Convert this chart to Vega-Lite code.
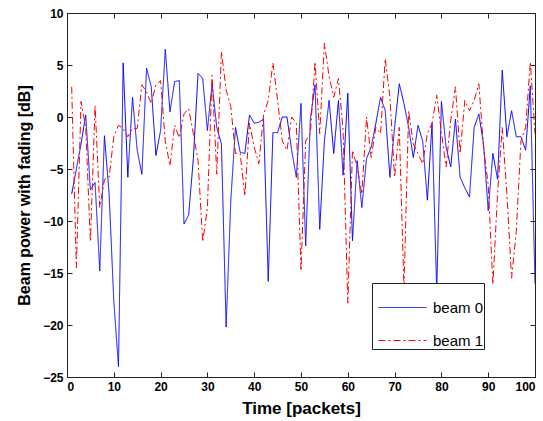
{
  "$schema": "https://vega.github.io/schema/vega-lite/v6.json",
  "width": 468,
  "height": 364,
  "autosize": "none",
  "padding": {"left": 67, "top": 13, "right": 8, "bottom": 44},
  "background": "white",
  "config": {
    "view": {"stroke": "#222", "strokeWidth": 1},
    "axis": {"grid": false, "domain": false, "tickColor": "#222", "labelFont": "Liberation Sans", "labelFontWeight": "bold", "labelFontSize": 12, "labelColor": "black", "titleFont": "Liberation Sans", "titleFontWeight": "bold", "titleColor": "black"},
    "legend": {"orient": "none", "legendX": 305, "legendY": 270, "title": null, "symbolType": "stroke", "symbolSize": 2704, "symbolStrokeWidth": 1, "labelFont": "Liberation Sans", "labelFontSize": 15, "labelColor": "black", "labelOffset": 6, "rowPadding": -12, "padding": 0, "symbolOffset": 6, "strokeColor": "#222", "fillColor": "white"}
  },
  "data": {"values": [
    {"t":1,"p":-7.4,"s":"beam 0"},{"t":2,"p":-5,"s":"beam 0"},{"t":3,"p":-2.6,"s":"beam 0"},{"t":4,"p":0.2,"s":"beam 0"},{"t":5,"p":-7,"s":"beam 0"},{"t":6,"p":-6.3,"s":"beam 0"},{"t":7,"p":-14.8,"s":"beam 0"},{"t":8,"p":-1.8,"s":"beam 0"},{"t":9,"p":-7.4,"s":"beam 0"},{"t":10,"p":-17.7,"s":"beam 0"},
    {"t":11,"p":-24,"s":"beam 0"},{"t":12,"p":5.2,"s":"beam 0"},{"t":13,"p":-5.8,"s":"beam 0"},{"t":14,"p":1.9,"s":"beam 0"},{"t":15,"p":-3.2,"s":"beam 0"},{"t":16,"p":-5.5,"s":"beam 0"},{"t":17,"p":4.7,"s":"beam 0"},{"t":18,"p":2.9,"s":"beam 0"},{"t":19,"p":-3.7,"s":"beam 0"},{"t":20,"p":-1.3,"s":"beam 0"},
    {"t":21,"p":6.5,"s":"beam 0"},{"t":22,"p":0.5,"s":"beam 0"},{"t":23,"p":3.4,"s":"beam 0"},{"t":24,"p":3.5,"s":"beam 0"},{"t":25,"p":-10.3,"s":"beam 0"},{"t":26,"p":-9.4,"s":"beam 0"},{"t":27,"p":-4,"s":"beam 0"},{"t":28,"p":4.2,"s":"beam 0"},{"t":29,"p":3.7,"s":"beam 0"},{"t":30,"p":-1.3,"s":"beam 0"},
    {"t":31,"p":3.2,"s":"beam 0"},{"t":32,"p":-1,"s":"beam 0"},{"t":33,"p":-2.6,"s":"beam 0"},{"t":34,"p":-20.2,"s":"beam 0"},{"t":35,"p":-8,"s":"beam 0"},{"t":36,"p":-1,"s":"beam 0"},{"t":37,"p":-3.4,"s":"beam 0"},{"t":38,"p":-3.5,"s":"beam 0"},{"t":39,"p":0.2,"s":"beam 0"},{"t":40,"p":-0.6,"s":"beam 0"},
    {"t":41,"p":-0.5,"s":"beam 0"},{"t":42,"p":-0.2,"s":"beam 0"},{"t":43,"p":-15.8,"s":"beam 0"},{"t":44,"p":-1.5,"s":"beam 0"},{"t":45,"p":-1.5,"s":"beam 0"},{"t":46,"p":0,"s":"beam 0"},{"t":47,"p":0,"s":"beam 0"},{"t":48,"p":-3.2,"s":"beam 0"},{"t":49,"p":-5.8,"s":"beam 0"},{"t":50,"p":1.3,"s":"beam 0"},
    {"t":51,"p":-12.4,"s":"beam 0"},{"t":52,"p":-0.2,"s":"beam 0"},{"t":53,"p":3.1,"s":"beam 0"},{"t":54,"p":-10.8,"s":"beam 0"},{"t":55,"p":-2.3,"s":"beam 0"},{"t":56,"p":1.6,"s":"beam 0"},{"t":57,"p":-3.5,"s":"beam 0"},{"t":58,"p":1.6,"s":"beam 0"},{"t":59,"p":-5.6,"s":"beam 0"},{"t":60,"p":2.3,"s":"beam 0"},
    {"t":61,"p":-11.9,"s":"beam 0"},{"t":62,"p":-4.2,"s":"beam 0"},{"t":63,"p":-8.7,"s":"beam 0"},{"t":64,"p":-4,"s":"beam 0"},{"t":65,"p":-2.9,"s":"beam 0"},{"t":66,"p":-0.6,"s":"beam 0"},{"t":67,"p":1.9,"s":"beam 0"},{"t":68,"p":0.6,"s":"beam 0"},{"t":69,"p":-5.8,"s":"beam 0"},{"t":70,"p":-1,"s":"beam 0"},
    {"t":71,"p":3.2,"s":"beam 0"},{"t":72,"p":1.3,"s":"beam 0"},{"t":73,"p":-1,"s":"beam 0"},{"t":74,"p":-3.9,"s":"beam 0"},{"t":75,"p":-0.8,"s":"beam 0"},{"t":76,"p":-2.3,"s":"beam 0"},{"t":77,"p":-8,"s":"beam 0"},{"t":78,"p":-0.6,"s":"beam 0"},{"t":79,"p":-16.8,"s":"beam 0"},{"t":80,"p":1.5,"s":"beam 0"},
    {"t":81,"p":-2.9,"s":"beam 0"},{"t":82,"p":-4.8,"s":"beam 0"},{"t":83,"p":-0.2,"s":"beam 0"},{"t":84,"p":-5.8,"s":"beam 0"},{"t":85,"p":-6.8,"s":"beam 0"},{"t":86,"p":-7.7,"s":"beam 0"},{"t":87,"p":-1,"s":"beam 0"},{"t":88,"p":0.3,"s":"beam 0"},{"t":89,"p":-2.6,"s":"beam 0"},{"t":90,"p":-9,"s":"beam 0"},
    {"t":91,"p":-3.5,"s":"beam 0"},{"t":92,"p":-6,"s":"beam 0"},{"t":93,"p":4.5,"s":"beam 0"},{"t":94,"p":-1.9,"s":"beam 0"},{"t":95,"p":0.6,"s":"beam 0"},{"t":96,"p":-1.9,"s":"beam 0"},{"t":97,"p":-1.9,"s":"beam 0"},{"t":98,"p":-3.2,"s":"beam 0"},{"t":99,"p":3,"s":"beam 0"},{"t":100,"p":-16,"s":"beam 0"},
    {"t":1,"p":2.9,"s":"beam 1"},{"t":2,"p":-14.5,"s":"beam 1"},{"t":3,"p":1.5,"s":"beam 1"},{"t":4,"p":-1,"s":"beam 1"},{"t":5,"p":-12,"s":"beam 1"},{"t":6,"p":1.1,"s":"beam 1"},{"t":7,"p":-8.7,"s":"beam 1"},{"t":8,"p":-6,"s":"beam 1"},{"t":9,"p":-5.8,"s":"beam 1"},{"t":10,"p":-1.9,"s":"beam 1"},
    {"t":11,"p":-0.8,"s":"beam 1"},{"t":12,"p":-1.1,"s":"beam 1"},{"t":13,"p":-1.9,"s":"beam 1"},{"t":14,"p":-1.1,"s":"beam 1"},{"t":15,"p":-1.1,"s":"beam 1"},{"t":16,"p":3.1,"s":"beam 1"},{"t":17,"p":2.4,"s":"beam 1"},{"t":18,"p":1.3,"s":"beam 1"},{"t":19,"p":3.1,"s":"beam 1"},{"t":20,"p":3.5,"s":"beam 1"},
    {"t":21,"p":-2.3,"s":"beam 1"},{"t":22,"p":-4.7,"s":"beam 1"},{"t":23,"p":-0.8,"s":"beam 1"},{"t":24,"p":-2,"s":"beam 1"},{"t":25,"p":0.3,"s":"beam 1"},{"t":26,"p":0.8,"s":"beam 1"},{"t":27,"p":-1.6,"s":"beam 1"},{"t":28,"p":-4.2,"s":"beam 1"},{"t":29,"p":-12,"s":"beam 1"},{"t":30,"p":-8.7,"s":"beam 1"},
    {"t":31,"p":4,"s":"beam 1"},{"t":32,"p":-5.5,"s":"beam 1"},{"t":33,"p":6.3,"s":"beam 1"},{"t":34,"p":2.6,"s":"beam 1"},{"t":35,"p":1,"s":"beam 1"},{"t":36,"p":-3.5,"s":"beam 1"},{"t":37,"p":-3.5,"s":"beam 1"},{"t":38,"p":-7.6,"s":"beam 1"},{"t":39,"p":-0.6,"s":"beam 1"},{"t":40,"p":-2.9,"s":"beam 1"},
    {"t":41,"p":-4.5,"s":"beam 1"},{"t":42,"p":0.2,"s":"beam 1"},{"t":43,"p":1.6,"s":"beam 1"},{"t":44,"p":5.2,"s":"beam 1"},{"t":45,"p":1.6,"s":"beam 1"},{"t":46,"p":-2.3,"s":"beam 1"},{"t":47,"p":-3.2,"s":"beam 1"},{"t":48,"p":0,"s":"beam 1"},{"t":49,"p":-0.6,"s":"beam 1"},{"t":50,"p":-14.8,"s":"beam 1"},
    {"t":51,"p":-2.3,"s":"beam 1"},{"t":52,"p":-1.6,"s":"beam 1"},{"t":53,"p":5.3,"s":"beam 1"},{"t":54,"p":-1.6,"s":"beam 1"},{"t":55,"p":7.1,"s":"beam 1"},{"t":56,"p":3.9,"s":"beam 1"},{"t":57,"p":1.9,"s":"beam 1"},{"t":58,"p":3.7,"s":"beam 1"},{"t":59,"p":-1.3,"s":"beam 1"},{"t":60,"p":-17.9,"s":"beam 1"},
    {"t":61,"p":-3.2,"s":"beam 1"},{"t":62,"p":-4.8,"s":"beam 1"},{"t":63,"p":-7.4,"s":"beam 1"},{"t":64,"p":0,"s":"beam 1"},{"t":65,"p":-3.9,"s":"beam 1"},{"t":66,"p":-1,"s":"beam 1"},{"t":67,"p":-1.6,"s":"beam 1"},{"t":68,"p":5.6,"s":"beam 1"},{"t":69,"p":1.9,"s":"beam 1"},{"t":70,"p":-5.8,"s":"beam 1"},
    {"t":71,"p":-1,"s":"beam 1"},{"t":72,"p":-16.5,"s":"beam 1"},{"t":73,"p":0.6,"s":"beam 1"},{"t":74,"p":-2.6,"s":"beam 1"},{"t":75,"p":-3.5,"s":"beam 1"},{"t":76,"p":-4.5,"s":"beam 1"},{"t":77,"p":-1.6,"s":"beam 1"},{"t":78,"p":-0.6,"s":"beam 1"},{"t":79,"p":2.1,"s":"beam 1"},{"t":80,"p":-1.5,"s":"beam 1"},
    {"t":81,"p":-4.8,"s":"beam 1"},{"t":82,"p":-0.3,"s":"beam 1"},{"t":83,"p":2.9,"s":"beam 1"},{"t":84,"p":-3.5,"s":"beam 1"},{"t":85,"p":1.6,"s":"beam 1"},{"t":86,"p":0.6,"s":"beam 1"},{"t":87,"p":1.6,"s":"beam 1"},{"t":88,"p":3.2,"s":"beam 1"},{"t":89,"p":-2.9,"s":"beam 1"},{"t":90,"p":-6.5,"s":"beam 1"},
    {"t":91,"p":-16.1,"s":"beam 1"},{"t":92,"p":-7.4,"s":"beam 1"},{"t":93,"p":-1,"s":"beam 1"},{"t":94,"p":-7.4,"s":"beam 1"},{"t":95,"p":-15.5,"s":"beam 1"},{"t":96,"p":-11,"s":"beam 1"},{"t":97,"p":-2.3,"s":"beam 1"},{"t":98,"p":-1,"s":"beam 1"},{"t":99,"p":5.3,"s":"beam 1"},{"t":100,"p":-1.6,"s":"beam 1"}
  ]},
  "layer": [
    {
      "mark": {"type": "line", "strokeWidth": 1, "clip": true},
      "encoding": {
        "x": {"field": "t", "type": "quantitative", "scale": {"domain": [0, 100], "nice": false, "zero": false},
              "axis": {"orient": "bottom", "values": [0,10,20,30,40,50,60,70,80,90,100], "tickSize": -5, "labelPadding": 9, "title": "Time [packets]", "titleFontSize": 17, "titlePadding": 8}},
        "y": {"field": "p", "type": "quantitative", "scale": {"domain": [-25, 10], "nice": false, "zero": false},
              "axis": {"orient": "left", "values": [-25,-20,-15,-10,-5,0,5,10], "tickSize": -5, "labelPadding": 9, "title": "Beam power with fading [dB]", "titleFontSize": 16, "titlePadding": 10}},
        "color": {"field": "s", "type": "nominal", "scale": {"domain": ["beam 0", "beam 1"], "range": ["#0000ff", "#ff0000"]},
                  "legend": {"symbolSize": 2304, "rowPadding": -8, "labelExpr": "datum.label + '            '",
                             "encode": {"symbols": {"update": {"stroke": {"scale": "color", "field": "value"}, "strokeDash": {"scale": "strokeDash", "field": "value"}}}}}},
        "strokeDash": {"field": "s", "type": "nominal", "scale": {"domain": ["beam 0", "beam 1"], "range": [[1, 0], [7, 3, 2, 3]]},
                  "legend": {"symbolSize": 2304, "rowPadding": -8, "labelExpr": "datum.label + '            '",
                             "encode": {"symbols": {"update": {"stroke": {"scale": "color", "field": "value"}, "strokeDash": {"scale": "strokeDash", "field": "value"}}}}}}
      }
    },
    {
      "mark": {"type": "line", "opacity": 0},
      "encoding": {
        "x": {"field": "t", "type": "quantitative", "scale": {"domain": [0, 100], "nice": false, "zero": false},
              "axis": {"orient": "top", "values": [0,10,20,30,40,50,60,70,80,90,100], "tickSize": -5, "labels": false, "title": null}},
        "y": {"field": "p", "type": "quantitative", "scale": {"domain": [-25, 10], "nice": false, "zero": false},
              "axis": {"orient": "right", "values": [-25,-20,-15,-10,-5,0,5,10], "tickSize": -5, "labels": false, "title": null}}
      }
    }
  ],
  "resolve": {"axis": {"x": "independent", "y": "independent"}}
}
